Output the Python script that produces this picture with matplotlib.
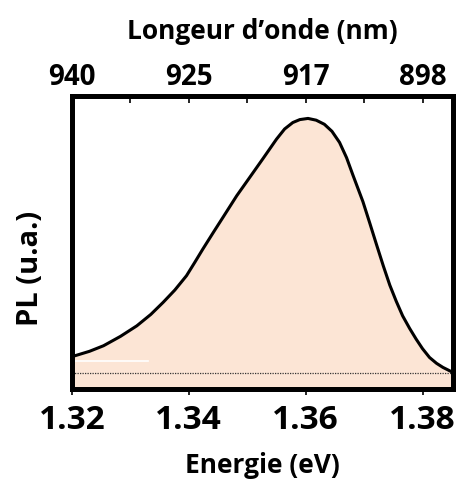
import numpy as np
import matplotlib.pyplot as plt
from matplotlib.ticker import FixedLocator

# PL spectrum (normalised)
energy = [1.3202, 1.3230, 1.3254, 1.3283, 1.3311, 1.3335, 1.3356, 1.3376,
          1.3396, 1.3410, 1.3424, 1.3442, 1.3459, 1.3482, 1.3504, 1.3527,
          1.3550, 1.3564, 1.3578, 1.3590, 1.3604, 1.3618, 1.3632, 1.3645,
          1.3658, 1.3670, 1.3681, 1.3698, 1.3710, 1.3721, 1.3733, 1.3744,
          1.3755, 1.3766, 1.3778, 1.3789, 1.3800, 1.3812, 1.3824, 1.3835,
          1.3849]
pl = [0.112, 0.129, 0.148, 0.180, 0.216, 0.255, 0.296, 0.338,
      0.387, 0.432, 0.478, 0.535, 0.588, 0.660, 0.722, 0.787,
      0.853, 0.888, 0.910, 0.920, 0.924, 0.918, 0.904, 0.880,
      0.842, 0.790, 0.730, 0.640, 0.565, 0.495, 0.420, 0.355,
      0.300, 0.250, 0.207, 0.171, 0.138, 0.108, 0.088, 0.074,
      0.060]
baseline = 0.055

energy_ticks = [1.32, 1.34, 1.36, 1.38]
wavelength_labels = ['940', '925', '917', '898']
top_minor = [1.33, 1.35, 1.37]

plt.rcParams['font.family'] = ['Open Sans', 'DejaVu Sans']
plt.rcParams['font.weight'] = 'bold'

fig = plt.figure(figsize=(4.57, 4.81), dpi=100)
ax = fig.add_axes([0.1575, 0.189, 0.8335, 0.609])

ax.fill_between(energy, 0, pl, color='#FCE5D5', lw=0)
ax.plot(energy, pl, color='black', lw=2.2, solid_joinstyle='round')
ax.axhline(baseline, color='#333333', lw=0.9, ls=(0, (1, 1)))
ax.plot([1.3200, 1.3330], [0.096, 0.096], color='white', lw=1.2)

ax.set_xlim(1.32, 1.3852)
ax.set_ylim(0, 1)
ax.set_yticks([])
ax.set_xticks(energy_ticks)
ax.set_xticklabels(['%.2f' % t for t in energy_ticks], fontsize=24, fontweight='bold')
ax.tick_params(axis='x', direction='out', length=4, width=1.2, pad=6)
for s in ax.spines.values():
    s.set_linewidth(3.5)

ax.set_xlabel('Energie (eV)', fontsize=19, fontweight='bold', labelpad=11)
ax.set_ylabel('PL (u.a.)', fontsize=21, fontweight='bold')
ax.yaxis.set_label_coords(-0.072, 0.416)

top = ax.twiny()
top.set_xlim(ax.get_xlim())
top.set_xticks(energy_ticks)
top.set_xticklabels(wavelength_labels, fontsize=20, fontweight='bold')
top.xaxis.set_minor_locator(FixedLocator(top_minor))
top.tick_params(axis='x', which='both', direction='in', length=5, width=1.2, pad=4)
top.set_xlabel('Longeur d\u2019onde (nm)', fontsize=19, fontweight='bold', labelpad=17)
for s in top.spines.values():
    s.set_linewidth(3.5)

fig.savefig('out.png', dpi=100)
